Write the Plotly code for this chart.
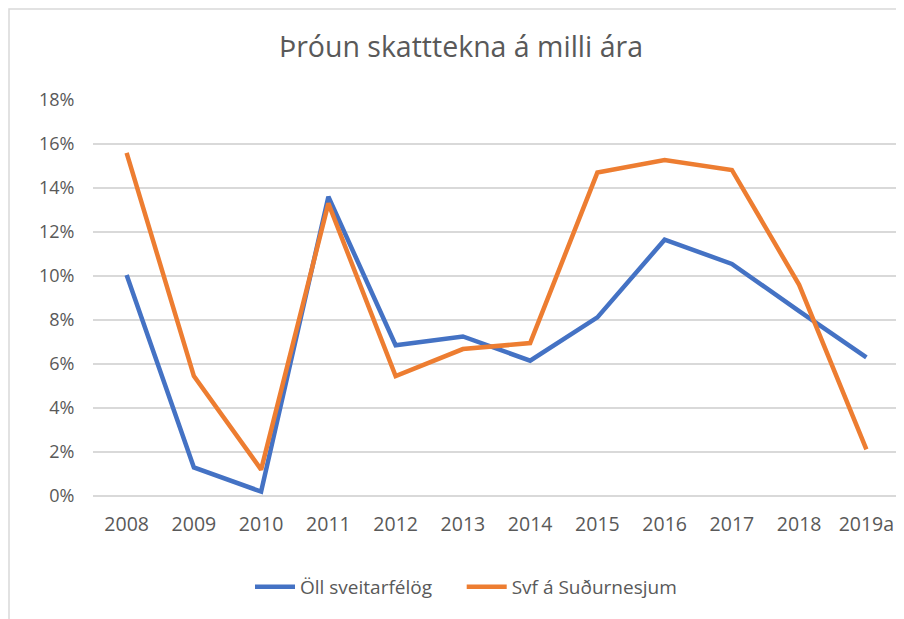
import plotly.graph_objects as go

years = ["2008", "2009", "2010", "2011", "2012", "2013", "2014", "2015", "2016", "2017", "2018", "2019a"]
oll_sveitarfelog = [10.05, 1.3, 0.2, 13.6, 6.85, 7.25, 6.15, 8.12, 11.65, 10.55, 8.4, 6.3]
svf_sudurnesjum = [15.6, 5.45, 1.2, 13.3, 5.45, 6.68, 6.95, 14.7, 15.27, 14.82, 9.6, 2.12]
y_ticks = [0, 2, 4, 6, 8, 10, 12, 14, 16, 18]

GREY = "#595959"
FONT = "Open Sans"

# page body has an 8px margin, so the figure is sized/offset to compensate
W, H = 896, 611
L, R, T, B = 85, 4, 92, 123

fig = go.Figure()
fig.add_trace(go.Scatter(x=years, y=oll_sveitarfelog, mode="lines",
                         name="Öll sveitarfélög" + "\u00a0" * 5,
                         line=dict(color="#4472C4", width=4.5)))
fig.add_trace(go.Scatter(x=years, y=svf_sudurnesjum, mode="lines", name="Svf á Suðurnesjum",
                         line=dict(color="#ED7D31", width=4.5)))

fig.update_layout(
    width=W, height=H,
    margin=dict(l=L, r=R, t=T, b=B),
    paper_bgcolor="white", plot_bgcolor="white",
    font=dict(family=FONT, color=GREY, size=18),
    title=dict(text="Þróun skatttekna á milli ára", x=453/W, xref="container", xanchor="center",
               y=1-39/H, yref="container", yanchor="middle",
               font=dict(family=FONT, size=28.5, color=GREY)),
    showlegend=True,
    legend=dict(orientation="h", xref="container", yref="container", x=458/W, xanchor="center",
                y=1-579/H, yanchor="middle", font=dict(family=FONT, size=19, color=GREY),
                itemwidth=40, tracegroupgap=0),
    xaxis=dict(type="category", range=[-0.5, 11.5], showgrid=False, zeroline=False, showline=False,
               ticks="outside", ticklen=11, tickcolor="rgba(0,0,0,0)",
               tickfont=dict(family=FONT, size=19.5, color=GREY)),
    yaxis=dict(range=[0, 18], tickvals=y_ticks, ticktext=[f"{v}%" for v in y_ticks],
               showgrid=True, gridcolor="#D9D9D9", gridwidth=1.5,
               zeroline=True, zerolinecolor="#D9D9D9", zerolinewidth=1.5, showline=False,
               ticks="outside", ticklen=14, tickcolor="rgba(0,0,0,0)",
               tickfont=dict(family=FONT, size=18, color=GREY)),
)

# chart-area border (left and top visible in the reference)
pw, ph = W - L - R, H - T - B
fig.add_shape(type="rect", xref="paper", yref="paper",
              x0=(1 - L) / pw, x1=(930 - L) / pw,
              y0=(H - B - 640) / ph, y1=(H - B - 1) / ph,
              line=dict(color="#D9D9D9", width=1.5), fillcolor="rgba(0,0,0,0)", layer="below")

fig.write_html("out.html")
